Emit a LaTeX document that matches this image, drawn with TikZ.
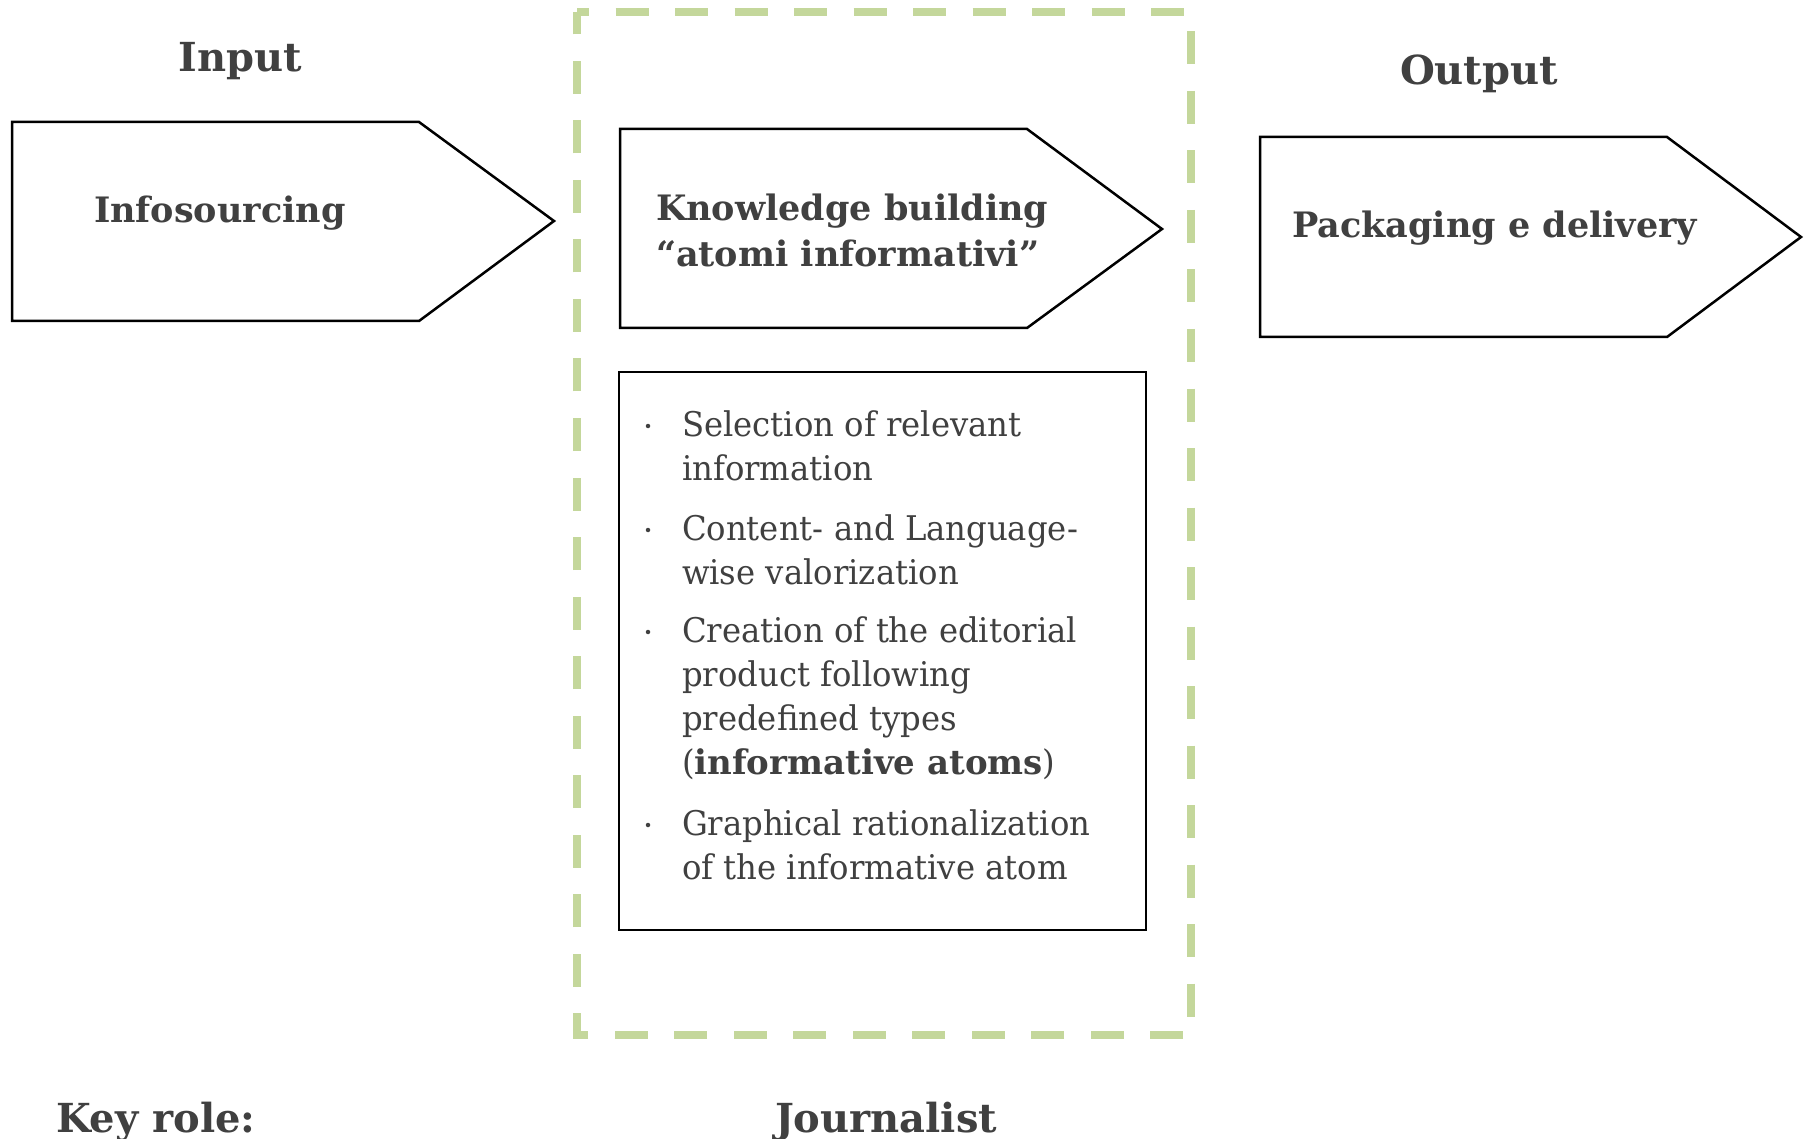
\documentclass[tikz,border=0pt]{standalone}
\usepackage{fontspec}
\setmainfont{DejaVu Serif}[UprightFeatures={FakeStretch=0.95}, BoldFeatures={FakeStretch=1.0}]
\definecolor{txt}{RGB}{64,64,64}
\definecolor{dashgreen}{RGB}{196,215,155}

\begin{document}
\begin{tikzpicture}[x=1pt,y=-1pt,
  every node/.style={inner sep=0pt, outer sep=0pt, text=txt},
  head/.style={font=\fontsize{40}{48}\selectfont\bfseries, anchor=base},
  stage/.style={draw=black, line width=2.5pt, fill=white, line join=miter},
  stagelabel/.style={font=\fontsize{35}{46}\selectfont\bfseries, anchor=base west},
  item/.style={font=\fontsize{34}{44}\selectfont, anchor=base west},
  bulletdot/.style={circle, fill=txt, minimum size=4.5pt}
]
\useasboundingbox (0,0) rectangle (1804,1139);
\fill[white] (0,0) rectangle (1804,1139);

% role frame around the middle stage
\draw[dashgreen, line width=7.5pt, dash pattern=on 33pt off 26.5pt, dash phase=21pt]
  (577,12) -- (1191,12) -- (1191,1035) -- (577,1035) -- cycle;

% the three process stages
\draw[stage] (12,122) -- (419,122) -- (554,221) -- (419,321) -- (12,321) -- cycle;
\draw[stage] (620,129) -- (1027,129) -- (1162,229) -- (1027,328) -- (620,328) -- cycle;
\draw[stage] (1260,137) -- (1667,137) -- (1801,237) -- (1667,337) -- (1260,337) -- cycle;

% activity box
\draw[line width=2.5pt] (619,372) rectangle (1146,930);

% headings
\node[head] (input) at (240,72) {Input};
\node[head] (output) at (1479,85) {Output};

% stage labels
\node[stagelabel] (src) at (94,223) {Infosourcing};
\node[stagelabel] (kb) at (656,221) {\parbox[t]{520pt}{Knowledge building\\“atomi informativi”}};
\node[stagelabel] (pack) at (1292,238) {Packaging e delivery};

% activities
\node[bulletdot] (b1) at (648,426) {};
\node[bulletdot] (b2) at (648,530) {};
\node[bulletdot] (b3) at (648,632) {};
\node[bulletdot] (b4) at (648,825) {};
\node[item] (i1) at (682,436) {\parbox[t]{450pt}{Selection of relevant\\information}};
\node[item] (i2) at (682,540) {\parbox[t]{450pt}{Content- and Language-\\wise valorization}};
\node[item] (i3) at (682,642) {\parbox[t]{450pt}{Creation of the editorial\\product following\\predefined types\\(\textbf{informative atoms})}};
\node[item] (i4) at (682,835) {\parbox[t]{450pt}{Graphical rationalization\\of the informative atom}};

% key role row
\node[head, anchor=base west] (key) at (56,1132) {Key role:};
\node[head, anchor=base west] (role) at (775,1132) {Journalist};
\end{tikzpicture}
\end{document}
